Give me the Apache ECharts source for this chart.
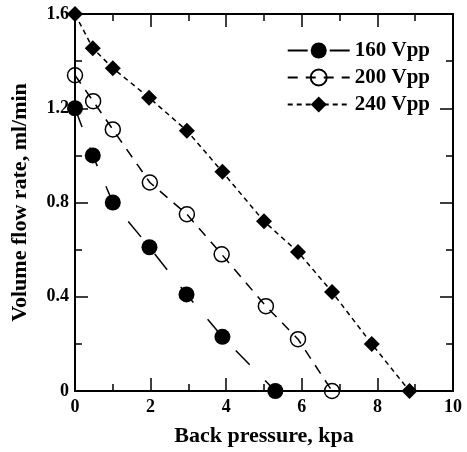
<!DOCTYPE html>
<html>
<head>
<meta charset="utf-8">
<script src="https://cdn.jsdelivr.net/npm/echarts@6/dist/echarts.min.js"></script>
<style>
  html, body { margin: 0; padding: 0; background: #fff; }
  #chart { width: 467px; height: 452px; }
</style>
</head>
<body>
<div id="chart"></div>
<script>
// back pressure (kpa) vs volume flow rate (ml/min)
const x160 = [0, 0.47, 1.0, 1.97, 2.95, 3.9, 5.3];
const y160 = [1.2, 1.0, 0.8, 0.61, 0.41, 0.23, 0];
const x200 = [0, 0.48, 1.0, 1.98, 2.96, 3.88, 5.05, 5.9, 6.8];
const y200 = [1.34, 1.23, 1.11, 0.885, 0.75, 0.58, 0.36, 0.22, 0];
const x240 = [0, 0.47, 1.0, 1.96, 2.96, 3.9, 5.0, 5.9, 6.8, 7.85, 8.85];
const y240 = [1.6, 1.455, 1.37, 1.245, 1.105, 0.93, 0.72, 0.59, 0.42, 0.2, 0];
const seriesNames = ['160 Vpp', '200 Vpp', '240 Vpp'];

const font = 'Liberation Serif';
const pairs = (xs, ys) => xs.map((x, i) => [x, ys[i]]);

const axisCommon = {
  axisLine: { show: true, onZero: false, lineStyle: { color: '#000', width: 2 } },
  axisTick: { show: true, inside: true, length: 13, lineStyle: { color: '#000', width: 1.5 } },
  minorTick: { show: true, splitNumber: 2, length: 7, lineStyle: { color: '#000', width: 1.5 } },
  splitLine: { show: false },
  minorSplitLine: { show: false }
};
const labelStyle = { color: '#000', fontFamily: font, fontWeight: 'bold', fontSize: 18 };
const nameStyle = { color: '#000', fontFamily: font, fontWeight: 'bold', fontSize: 22 };

const chart = echarts.init(document.getElementById('chart'));
chart.setOption({
  animation: false,
  backgroundColor: '#fff',
  grid: { left: 75, right: 14, top: 14, bottom: 60 },
  legend: {
    orient: 'vertical',
    right: 32,
    top: 35,
    itemGap: 6,
    itemWidth: 62,
    itemHeight: 20,
    data: seriesNames,
    textStyle: { color: '#000', fontFamily: font, fontWeight: 'bold', fontSize: 21 }
  },
  xAxis: [
    Object.assign({
      type: 'value', min: 0, max: 10, interval: 2,
      name: 'Back pressure, kpa', nameLocation: 'middle', nameGap: 34,
      nameTextStyle: nameStyle,
      axisLabel: Object.assign({ margin: 7 }, labelStyle)
    }, axisCommon),
    Object.assign({
      type: 'value', min: 0, max: 10, interval: 2, position: 'top',
      axisLabel: { show: false }
    }, axisCommon)
  ],
  yAxis: [
    Object.assign({
      type: 'value', min: 0, max: 1.6, interval: 0.4,
      name: 'Volume flow rate, ml/min', nameLocation: 'middle', nameGap: 44,
      nameTextStyle: nameStyle,
      axisLabel: Object.assign({ margin: 6 }, labelStyle)
    }, axisCommon),
    Object.assign({
      type: 'value', min: 0, max: 1.6, interval: 0.4, position: 'right',
      axisLabel: { show: false }
    }, axisCommon)
  ],
  series: [
    {
      name: seriesNames[0], type: 'line', clip: false,
      data: pairs(x160, y160),
      symbol: 'circle', symbolSize: 16,
      itemStyle: { color: '#000' },
      lineStyle: { color: '#000', width: 1.5, type: [20, 22] },
      z: 3
    },
    {
      name: seriesNames[1], type: 'line', clip: false,
      data: pairs(x200, y200),
      symbol: 'circle', symbolSize: 15,
      itemStyle: { color: 'rgba(0,0,0,0)', borderColor: '#000', borderWidth: 1.5 },
      lineStyle: { color: '#000', width: 1.5, type: [10, 8] },
      z: 3
    },
    {
      name: seriesNames[2], type: 'line', clip: false,
      data: pairs(x240, y240),
      symbol: 'diamond', symbolSize: 16,
      itemStyle: { color: '#000' },
      lineStyle: { color: '#000', width: 1.5, type: [5, 4] },
      z: 3
    }
  ]
});
</script>
</body>
</html>
